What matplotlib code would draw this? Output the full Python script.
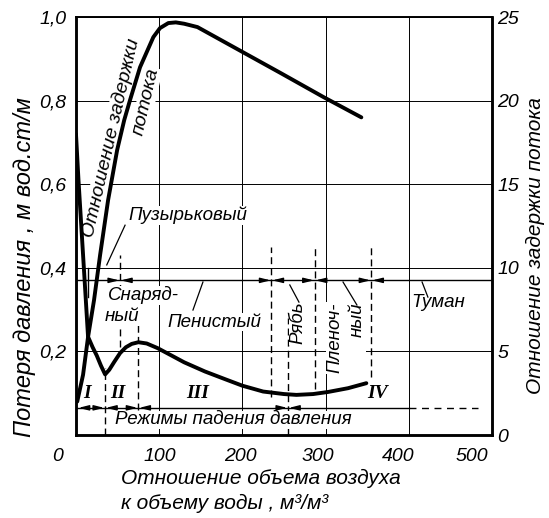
import matplotlib
matplotlib.use('Agg')
import matplotlib.pyplot as plt
import matplotlib.transforms as mtransforms

plt.rcParams['font.family'] = ['Liberation Sans', 'DejaVu Sans']
plt.rcParams['font.style'] = 'italic'

# ---------------- data ----------------
pressure_x = [0, 3, 7, 11, 14.5, 20, 25, 30, 35, 40, 46, 53, 60, 67, 75, 85, 98,
              115, 130, 155, 180, 200, 225, 250, 265, 285, 303, 327, 349]
pressure_y = [0.72, 0.61, 0.48, 0.35, 0.235, 0.21, 0.19, 0.166, 0.145, 0.156, 0.175,
              0.196, 0.21, 0.218, 0.222, 0.219, 0.208, 0.19, 0.174, 0.152, 0.133,
              0.118, 0.104, 0.098, 0.096, 0.098, 0.103, 0.112, 0.124]

holdup_x = [1.5, 8.5, 14.5, 21.7, 29, 38.6, 49.5, 58, 65, 77, 93, 101, 111, 120,
            130, 146, 198, 246, 298, 343]
holdup_y = [2.0, 3.6, 5.86, 8.07, 10.77, 14.05, 17.05, 18.84, 20.04, 22.0, 23.8,
            24.34, 24.64, 24.68, 24.6, 24.4, 22.97, 21.65, 20.2, 19.0]

x_ticks = [0, 100, 200, 300, 400, 500]
x_tick_labels = ['0', '100', '200', '300', '400', '500']
y_left_ticks = [0.2, 0.4, 0.6, 0.8, 1.0]
y_left_labels = ['0,2', '0,4', '0,6', '0,8', '1,0']
y_right_ticks = [0, 5, 10, 15, 20, 25]
y_right_labels = ['0', '5', '10', '15', '20', '25']

flow_regime_bounds = [53, 235, 287, 355]
pressure_regime_bounds = [35, 75, 255]
pressure_regime_names = ['I', 'II', 'III', 'IV']
pressure_regime_label_x = [13, 50.5, 146.6, 363]

# ---------------- figure ----------------
fig = plt.figure(figsize=(5.49, 5.18), dpi=100)
ax = fig.add_axes([0.1384, 0.1602, 0.7577, 0.8069])
ax.set_xlim(0, 500)
ax.set_ylim(0, 1.0)
ax2 = ax.twinx()
ax2.set_ylim(0, 25)

ax.set_xticks(x_ticks)
ax.set_xticklabels(x_tick_labels)
ax.set_yticks(y_left_ticks)
ax.set_yticklabels(y_left_labels)
ax2.set_yticks(y_right_ticks)
ax2.set_yticklabels(y_right_labels)

ax.grid(True, color='black', lw=0.7)
ax.tick_params(axis='both', length=0, labelsize=14)
ax.tick_params(axis='y', pad=7)
ax.tick_params(axis='x', pad=9)
ax2.tick_params(axis='y', length=0, labelsize=14, pad=4)

for a in (ax, ax2):
    for s in ['left', 'right', 'bottom']:
        a.spines[s].set_linewidth(1.8)
    a.spines['top'].set_linewidth(1.2)

x_offsets_px = [-18, 1, -2, -8, -11, -20]
for lab, dx in zip(ax.get_xticklabels(), x_offsets_px):
    lab.set_transform(lab.get_transform() + mtransforms.ScaledTranslation(dx / 100, 0, fig.dpi_scale_trans))

# curves
ax.plot(pressure_x, pressure_y, color='black', lw=2.8, solid_joinstyle='round',
        solid_capstyle='round', zorder=5)
ax2.plot(holdup_x, holdup_y, color='black', lw=2.8, solid_joinstyle='round',
         solid_capstyle='round', zorder=5)

# regime lines
y_top = 0.37
y_bot = 0.065
ax.plot([0, 500], [y_top, y_top], color='black', lw=1.0, zorder=3)
ax.plot([0, 400], [y_bot, y_bot], color='black', lw=1.0, zorder=3)
ax.plot([400, 483], [y_bot, y_bot], color='black', lw=1.0, ls=(0, (5, 4)), zorder=3)

def arrow(x_tip, x_tail, y):
    ax.annotate('', xy=(x_tip, y), xytext=(x_tail, y),
                arrowprops=dict(arrowstyle='-|>,head_length=0.6,head_width=0.15',
                                color='black', lw=1.0, shrinkA=0, shrinkB=0),
                zorder=4)

for b in flow_regime_bounds:
    arrow(b - 1, b - 14, y_top)
    arrow(b + 1, b + 14, y_top)
for b in pressure_regime_bounds:
    arrow(b - 1, b - 14, y_bot)
    arrow(b + 1, b + 14, y_bot)
arrow(3, 16, y_bot)

dash = (0, (5, 3))
vlines = [(35, 0.0, 0.16), (53, 0.21, 0.43), (75, 0.06, 0.275),
          (235, 0.09, 0.45), (255, 0.0, 0.28), (287, 0.11, 0.45), (355, 0.14, 0.45)]
for xv, y0, y1 in vlines:
    ax.plot([xv, xv], [y0, y1], color='black', lw=1.0, ls=dash, zorder=3)
ax.plot([14.5, 14.5], [0.33, 0.40], color='black', lw=1.0, zorder=3)

# texts
wb = dict(facecolor='white', edgecolor='none', pad=0.5)
fs = 13.5
ax.text(62.5, 0.526, 'Пузырьковый', fontsize=fs, ha='left', va='center', bbox=wb, zorder=4)
ax.plot([59, 37], [0.502, 0.407], color='black', lw=0.9, zorder=4)
ax.text(38, 0.334, 'Снаряд-', fontsize=fs, ha='left', va='center', bbox=wb, zorder=4)
ax.text(35, 0.283, 'ный', fontsize=fs, ha='left', va='center', bbox=wb, zorder=4)
ax.text(110.5, 0.27, 'Пенистый', fontsize=fs, ha='left', va='center', bbox=wb, zorder=4)
ax.plot([140.6, 152.6], [0.299, 0.366], color='black', lw=0.9, zorder=4)
ax.text(267, 0.268, 'Рябь', fontsize=fs, rotation=90, ha='center', va='center', bbox=wb, zorder=4)
ax.plot([268, 257], [0.318, 0.359], color='black', lw=0.9, zorder=4)
ax.text(324.5, 0.232, 'Пленоч-\nный', fontsize=fs, rotation=90, ha='center', va='center',
        multialignment='right', linespacing=1.4, bbox=wb, zorder=4)
ax.plot([337.7, 321], [0.311, 0.366], color='black', lw=0.9, zorder=4)
ax.text(436, 0.318, 'Туман', fontsize=fs, ha='center', va='center', bbox=wb, zorder=4)
ax.plot([423, 416], [0.33, 0.366], color='black', lw=0.9, zorder=4)

ax.text(42, 0.71, 'Отношение задержки', fontsize=14, rotation=77, rotation_mode='anchor',
        ha='center', va='center', bbox=wb, zorder=4)
ax.text(84, 0.797, 'потока', fontsize=14, rotation=77, rotation_mode='anchor',
        ha='center', va='center', bbox=wb, zorder=4)

for name, xl in zip(pressure_regime_names, pressure_regime_label_x):
    ax.text(xl, 0.10, name, fontsize=14, ha='center', va='center',
            family=['Liberation Serif', 'DejaVu Serif'], weight='bold', style='italic', zorder=4)

ax.text(189, 0.036, 'Режимы падения давления', fontsize=13.5, ha='center', va='center',
        bbox=wb, zorder=4)

# axis labels
fig.text(25 / 549, 1 - 267 / 518, 'Потеря давления , м вод.ст/м', fontsize=17,
         rotation=90, ha='center', va='center')
fig.text(535 / 549, 1 - 246 / 518, 'Отношение задержки потока', fontsize=15,
         rotation=90, ha='center', va='center')
fig.text(121 / 549, 1 - 478 / 518, 'Отношение объема воздуха', fontsize=15,
         ha='left', va='center')
fig.text(121 / 549, 1 - 503 / 518, 'к объему воды , м³/м³', fontsize=15,
         ha='left', va='center')

fig.savefig('out.png', dpi=100)
